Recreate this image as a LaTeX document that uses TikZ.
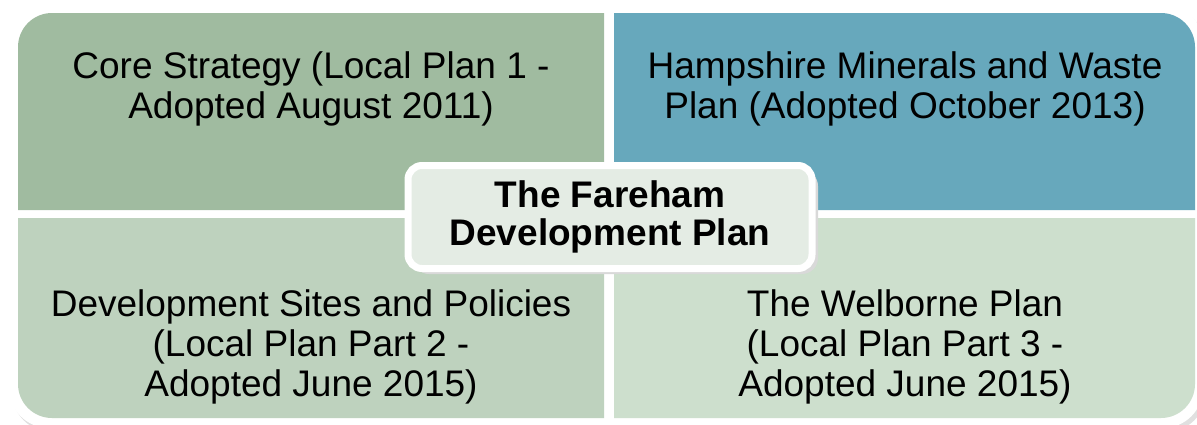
\documentclass[tikz,border=0pt]{standalone}
\usepackage{fontspec}
\setmainfont{Liberation Sans}
\definecolor{coregreen}{RGB}{160,187,160}
\definecolor{wastblue}{RGB}{103,168,188}
\definecolor{sitesgreen}{RGB}{190,210,190}
\definecolor{welgreen}{RGB}{205,223,205}
\definecolor{hubfill}{RGB}{228,236,228}
\begin{document}
\begin{tikzpicture}[x=1pt,y=-1pt,
  quadtext/.style={align=center,font=\fontsize{37}{40}\selectfont},
  hub/.style={draw=white,line width=7pt,fill=hubfill,rounded corners=14pt,
    minimum width=404pt,minimum height=103pt,align=center,
    font=\bfseries\fontsize{37}{38}\selectfont}]
\useasboundingbox(0,0)rectangle(1197,424);
%frame
\fill[black!12,rounded corners=40pt](12,8)rectangle(1206,432);
\fill[white,rounded corners=40pt](9,4)rectangle(1203,428);
%quadrants
\fill[coregreen](604,210)--(18,210)[rounded corners=34pt]--(18,13)[sharp corners]--(604,13)--cycle;
\fill[wastblue](614,13)[rounded corners=34pt]--(1195,13)[sharp corners]--(1195,210)--(614,210)--cycle;
\fill[sitesgreen](604,218)--(604,418)[rounded corners=34pt]--(18,418)[sharp corners]--(18,218)--cycle;
\fill[welgreen](614,418)[rounded corners=34pt]--(1195,418)[sharp corners]--(1195,218)--(614,218)--cycle;
%labels
\node[quadtext](core)at(311,89){Core Strategy (Local Plan 1 -\\Adopted August 2011)};
\node[quadtext](waste)at(905,89){Hampshire Minerals and Waste\\Plan (Adopted October 2013)};
\node[quadtext](sites)at(311,347){Development Sites and Policies\\(Local Plan Part 2 -\\Adopted June 2015)};
\node[quadtext](welborne)at(905,347){The Welborne Plan\\ (Local Plan Part 3 -\\Adopted June 2015)};
%centre
\fill[black!15,rounded corners=16pt](413,170)rectangle(818,274);
\node[hub](plan)at(610,217){The Fareham\\Development Plan};
\end{tikzpicture}
\end{document}
